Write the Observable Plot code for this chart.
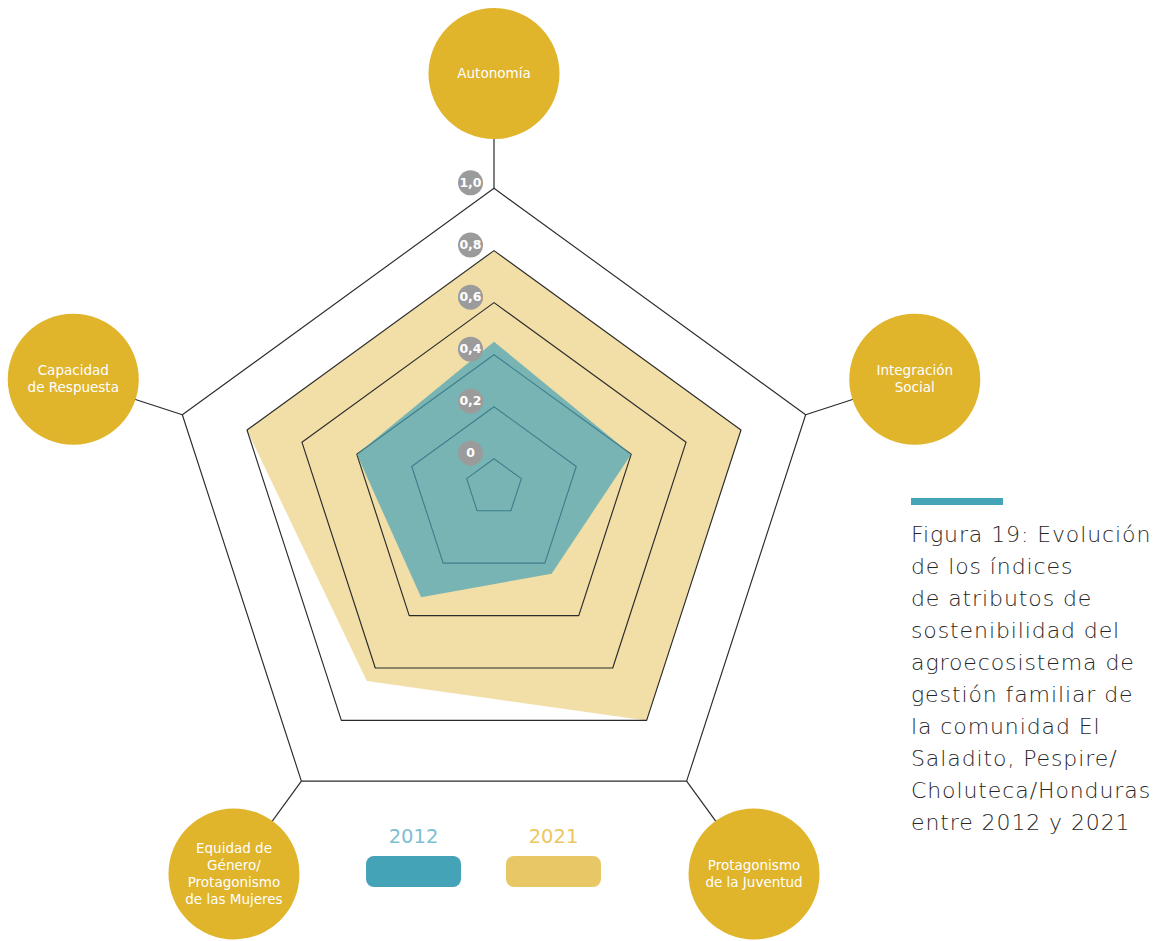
<!DOCTYPE html>
<html>
<head>
<meta charset="utf-8">
<script src="https://cdn.jsdelivr.net/npm/d3@7"></script>
<script src="https://cdn.jsdelivr.net/npm/@observablehq/plot@0.6"></script>
<style>
  html, body { margin: 0; padding: 0; background: #fff; }
  #wrap { position: relative; width: 1158px; height: 941px; overflow: hidden; font-family: "DejaVu Sans", sans-serif; }
  #chart { position: absolute; left: 0; top: 0; }
  .leg { position: absolute; width: 95px; text-align: center; }
  .leg .lab { font-size: 19.5px; font-weight: 400; line-height: 22px; height: 22px; }
  .leg .sw { margin-top: 8px; width: 95px; height: 31px; border-radius: 8px; }
  #caption { position: absolute; left: 911px; top: 498px; width: 247px; }
  #caption .bar { width: 92px; height: 7px; background: #45A3B8; }
  #caption .txt { margin-top: 14px; font-size: 22px; line-height: 32px; font-weight: 200; color: #262626; white-space: nowrap; letter-spacing: 0.9px; }
</style>
</head>
<body>
<div id="wrap">
  <div id="chart"></div>
  <div id="legend"></div>
  <div id="caption"><div class="bar"></div><div class="txt"></div></div>
</div>
<script>
// ---- data ----
const axesNames = ["Autonomía", "Integración\nSocial", "Protagonismo\nde la Juventud", "Equidad de\nGénero/\nProtagonismo\nde las Mujeres", "Capacidad\nde Respuesta"];
const years = ["2012", "2021"];
const values2012 = [0.45, 0.40, 0.24, 0.33, 0.40];
const values2021 = [0.80, 0.80, 0.80, 0.65, 0.80];
const ticks = [0, 0.2, 0.4, 0.6, 0.8, 1.0];
const tickLabels = ["0", "0,2", "0,4", "0,6", "0,8", "1,0"];
const captionLines = ["Figura 19: Evolución", "de los índices", "de atributos de", "sostenibilidad del", "agroecosistema de", "gestión familiar de", "la comunidad El", "Saladito, Pespire/", "Choluteca/Honduras", "entre 2012 y 2021"];

// ---- style / layout ----
const yearFill = {"2012": "#45A3B8", "2021": "#E8C767"};
const yearText = {"2012": "#7DC0D1", "2021": "#EBC760"};
const W = 1158, H = 941;
const K = 327.7;               // pixels per unit radius (outer ring)
const CX = 493.5, CY = 515.5;  // centre of the outer ring in pixels
const rN = d3.scaleLinear([0, 0.8, 1], [28.75 / K, 259.7 / K, 1]);
const shift = v => -(28.5 / K) * (1 - v);
const ang = i => (-90 + 72 * i) * Math.PI / 180;
const pt = (v, i) => ({x: rN(v) * Math.cos(ang(i)), y: shift(v) + rN(v) * Math.sin(ang(i))});
const LABEL_R = 1.35;

const n = axesNames.length;
const poly = (vals, key) => vals.map((v, i) => ({...pt(v, i), key}));
const rings = ticks.flatMap(t => d3.range(n).map(i => ({...pt(t, i), t})));
const axesData = axesNames.map((name, i) => {
  const o = pt(1, i);
  return {name, x1: o.x, y1: o.y, x2: LABEL_R * Math.cos(ang(i)), y2: LABEL_R * Math.sin(ang(i))};
});
const tickData = ticks.map((t, k) => ({t, label: tickLabels[k], ...pt(t, 0)}));
const FONT = "DejaVu Sans, sans-serif";

const chart = Plot.plot({
  width: W, height: H, margin: 0,
  x: {domain: [-CX / K, (W - CX) / K], axis: null},
  y: {domain: [-CY / K, (H - CY) / K], reverse: true, axis: null},
  marks: [
    Plot.line(poly(values2021, "2021"), {x: "x", y: "y", curve: "linear-closed", fill: yearFill["2021"], fillOpacity: 0.58, stroke: "none"}),
    Plot.line(rings, {x: "x", y: "y", z: "t", curve: "linear-closed", stroke: "#2b2b2b", strokeWidth: 1.15, fill: "none"}),
    Plot.line(poly(values2012, "2012"), {x: "x", y: "y", curve: "linear-closed", fill: yearFill["2012"], fillOpacity: 0.7, stroke: "none"}),
    Plot.link(axesData, {x1: "x1", y1: "y1", x2: "x2", y2: "y2", stroke: "#2b2b2b", strokeWidth: 1.2}),
    Plot.dot(axesData, {x: "x2", y: "y2", r: 65.5, fill: "#E0B42B", stroke: "none"}),
    Plot.text(axesData, {x: "x2", y: "y2", text: "name", fill: "white", fontSize: 13.5, lineHeight: 1.27, fontFamily: FONT, dy: -1}),
    Plot.dot(tickData, {x: "x", y: "y", dx: -23.5, dy: -5.5, r: 12.5, fill: "#9B9B9B", stroke: "none"}),
    Plot.text(tickData, {x: "x", y: "y", dx: -23.5, dy: -5.5, text: "label", fill: "white", fontSize: 12.5, fontWeight: "bold", fontFamily: FONT})
  ]
});
document.getElementById("chart").appendChild(chart);

// legend
const legendPos = {"2012": 366, "2021": 506};
const legend = document.getElementById("legend");
years.forEach(y => {
  const d = document.createElement("div");
  d.className = "leg";
  d.style.left = legendPos[y] + "px";
  d.style.top = "826px";
  d.innerHTML = `<div class="lab" style="color:${yearText[y]}">${y}</div><div class="sw" style="background:${yearFill[y]}"></div>`;
  legend.appendChild(d);
});

// caption
document.querySelector("#caption .txt").innerHTML = captionLines.join("<br>");
</script>
</body>
</html>
